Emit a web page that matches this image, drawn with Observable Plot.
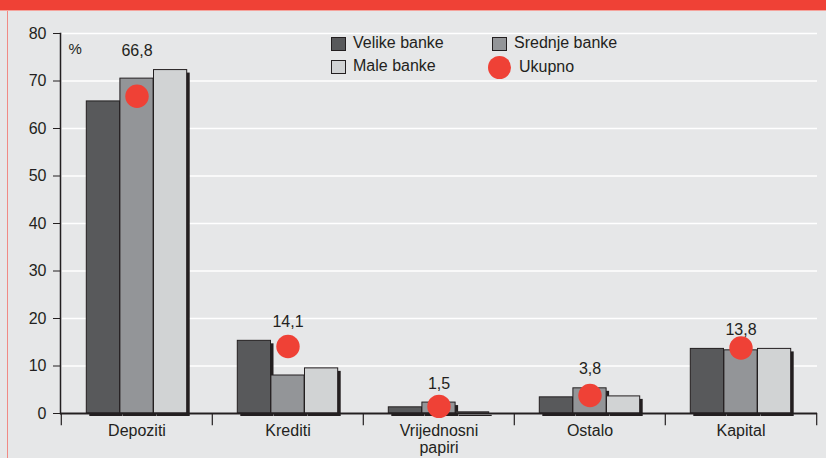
<!DOCTYPE html>
<html><head><meta charset="utf-8">
<script src="https://cdn.jsdelivr.net/npm/d3@7"></script>
<script src="https://cdn.jsdelivr.net/npm/@observablehq/plot@0.6"></script>
<style>
html,body{margin:0;padding:0;background:#e6e7e8;}
#wrap{position:relative;width:826px;height:458px;overflow:hidden;font-family:"Liberation Sans",Arial,sans-serif;color:#231f20;}
#wrap svg{position:absolute;left:0;top:0;}
.band{position:absolute;left:0;top:0;width:826px;height:10px;background:#ef4136;}
.band2{position:absolute;left:0;top:10px;width:826px;height:1px;background:#f5a39c;}
.lline{position:absolute;left:7px;top:11px;width:1px;height:447px;background:#f08a84;}
.sw{position:absolute;width:13px;height:12px;border:1px solid #231f20;}
.lt{position:absolute;font-size:16px;line-height:18px;white-space:nowrap;}
.dotl{position:absolute;width:23px;height:23px;border-radius:50%;background:#ef4136;}
</style>
</head><body>
<div id="wrap"></div>
<script>
const categories = ["Depoziti", "Krediti", "Vrijednosni\npapiri", "Ostalo", "Kapital"];
const seriesNames = ["Velike banke", "Srednje banke", "Male banke"];
const totalName = "Ukupno";
const velike = [65.7, 15.3, 1.3, 3.4, 13.6];
const srednje = [70.5, 8.0, 2.3, 5.3, 13.3];
const male = [72.3, 9.5, 0.25, 3.6, 13.6];
const ukupno = [66.8, 14.1, 1.5, 3.8, 13.8];
const yTicks = [0, 10, 20, 30, 40, 50, 60, 70, 80];

const seriesValues = [velike, srednje, male];
const seriesColors = ["#58595b", "#939598", "#d1d3d4"];
const ink = "#231f20";
const red = "#ef4136";

const W = 826, H = 458, mL = 60, mR = 9, mT = 33, mB = 45;
const bw = (W - mL - mR) / categories.length;
const barW = 33.6;
const inset = (bw - barW) / 2;

const rows = [];
seriesNames.forEach((s, i) => categories.forEach((c, j) => rows.push({series: s, si: i, cat: c, value: seriesValues[i][j]})));
const totals = categories.map((c, j) => ({cat: c, value: ukupno[j], top: Math.max(velike[j], srednje[j], male[j])}));

const marks = [
  Plot.gridY(yTicks, {stroke: "#ffffff", strokeOpacity: 1, strokeWidth: 1.6, insetLeft: 2})
];
seriesNames.forEach((s, i) => {
  marks.push(Plot.barY(rows.filter(r => r.si === i), {x: "cat", y: "value", fill: ink, insetLeft: inset, insetRight: inset, dx: (i - 1) * barW + 3, dy: 3}));
});
seriesNames.forEach((s, i) => {
  marks.push(Plot.barY(rows.filter(r => r.si === i), {x: "cat", y: "value", fill: seriesColors[i], stroke: ink, strokeWidth: 1, insetLeft: inset, insetRight: inset, dx: (i - 1) * barW}));
});
marks.push(
  Plot.ruleY([0], {stroke: ink, strokeWidth: 2}),
  Plot.frame({anchor: "left", stroke: ink, strokeWidth: 1.5}),
  Plot.ruleX(categories, {x: d => d, y1: 0, y2: -2.6, dx: -bw / 2, stroke: ink, strokeWidth: 1.2}),
  Plot.ruleX([categories[categories.length - 1]], {x: d => d, y1: 0, y2: -2.6, dx: bw / 2, stroke: ink, strokeWidth: 1.2}),
  Plot.axisY({ticks: yTicks, tickSize: 7, tickPadding: 7, fontSize: 16, stroke: ink, color: ink, label: null}),
  Plot.axisX({tickSize: 0, tickPadding: 11, fontSize: 16, lineHeight: 1.05, color: ink, label: null, tickFormat: d => d}),
  Plot.dot(totals, {x: "cat", y: "value", r: 11.7, fill: red, stroke: null}),
  Plot.text(totals, {x: "cat", y: "top", dy: -19, text: d => d.value.toFixed(1).replace(".", ","), fontSize: 16, fill: ink}),
  Plot.text(["%"], {frameAnchor: "top-left", dx: 8, dy: 10, fontSize: 15, fill: ink})
);

const chart = Plot.plot({
  width: W, height: H,
  marginLeft: mL, marginRight: mR, marginTop: mT, marginBottom: mB,
  style: {background: "transparent", fontFamily: "'Liberation Sans', Arial, sans-serif", fontSize: "16px", color: ink},
  x: {domain: categories, padding: 0, axis: null},
  y: {domain: [0, 80], axis: null},
  marks
});

const wrap = document.getElementById("wrap");
wrap.innerHTML = '<div class="band"></div><div class="band2"></div><div class="lline"></div>';
wrap.appendChild(chart);

const leg = [
  {type: "sw", color: seriesColors[0], label: seriesNames[0], x: 331, y: 37},
  {type: "sw", color: seriesColors[1], label: seriesNames[1], x: 492, y: 37},
  {type: "sw", color: seriesColors[2], label: seriesNames[2], x: 331, y: 60},
  {type: "dot", color: red, label: totalName, x: 488, y: 56}
];
leg.forEach(l => {
  const m = document.createElement("div");
  m.className = l.type === "sw" ? "sw" : "dotl";
  m.style.left = l.x + "px"; m.style.top = l.y + "px"; m.style.background = l.color;
  wrap.appendChild(m);
  const t = document.createElement("div");
  t.className = "lt";
  t.textContent = l.label;
  t.style.left = (l.type === "sw" ? l.x + 22 : 519) + "px";
  t.style.top = (l.type === "sw" ? l.y - 3 : 58) + "px";
  wrap.appendChild(t);
});
</script>
</body></html>
